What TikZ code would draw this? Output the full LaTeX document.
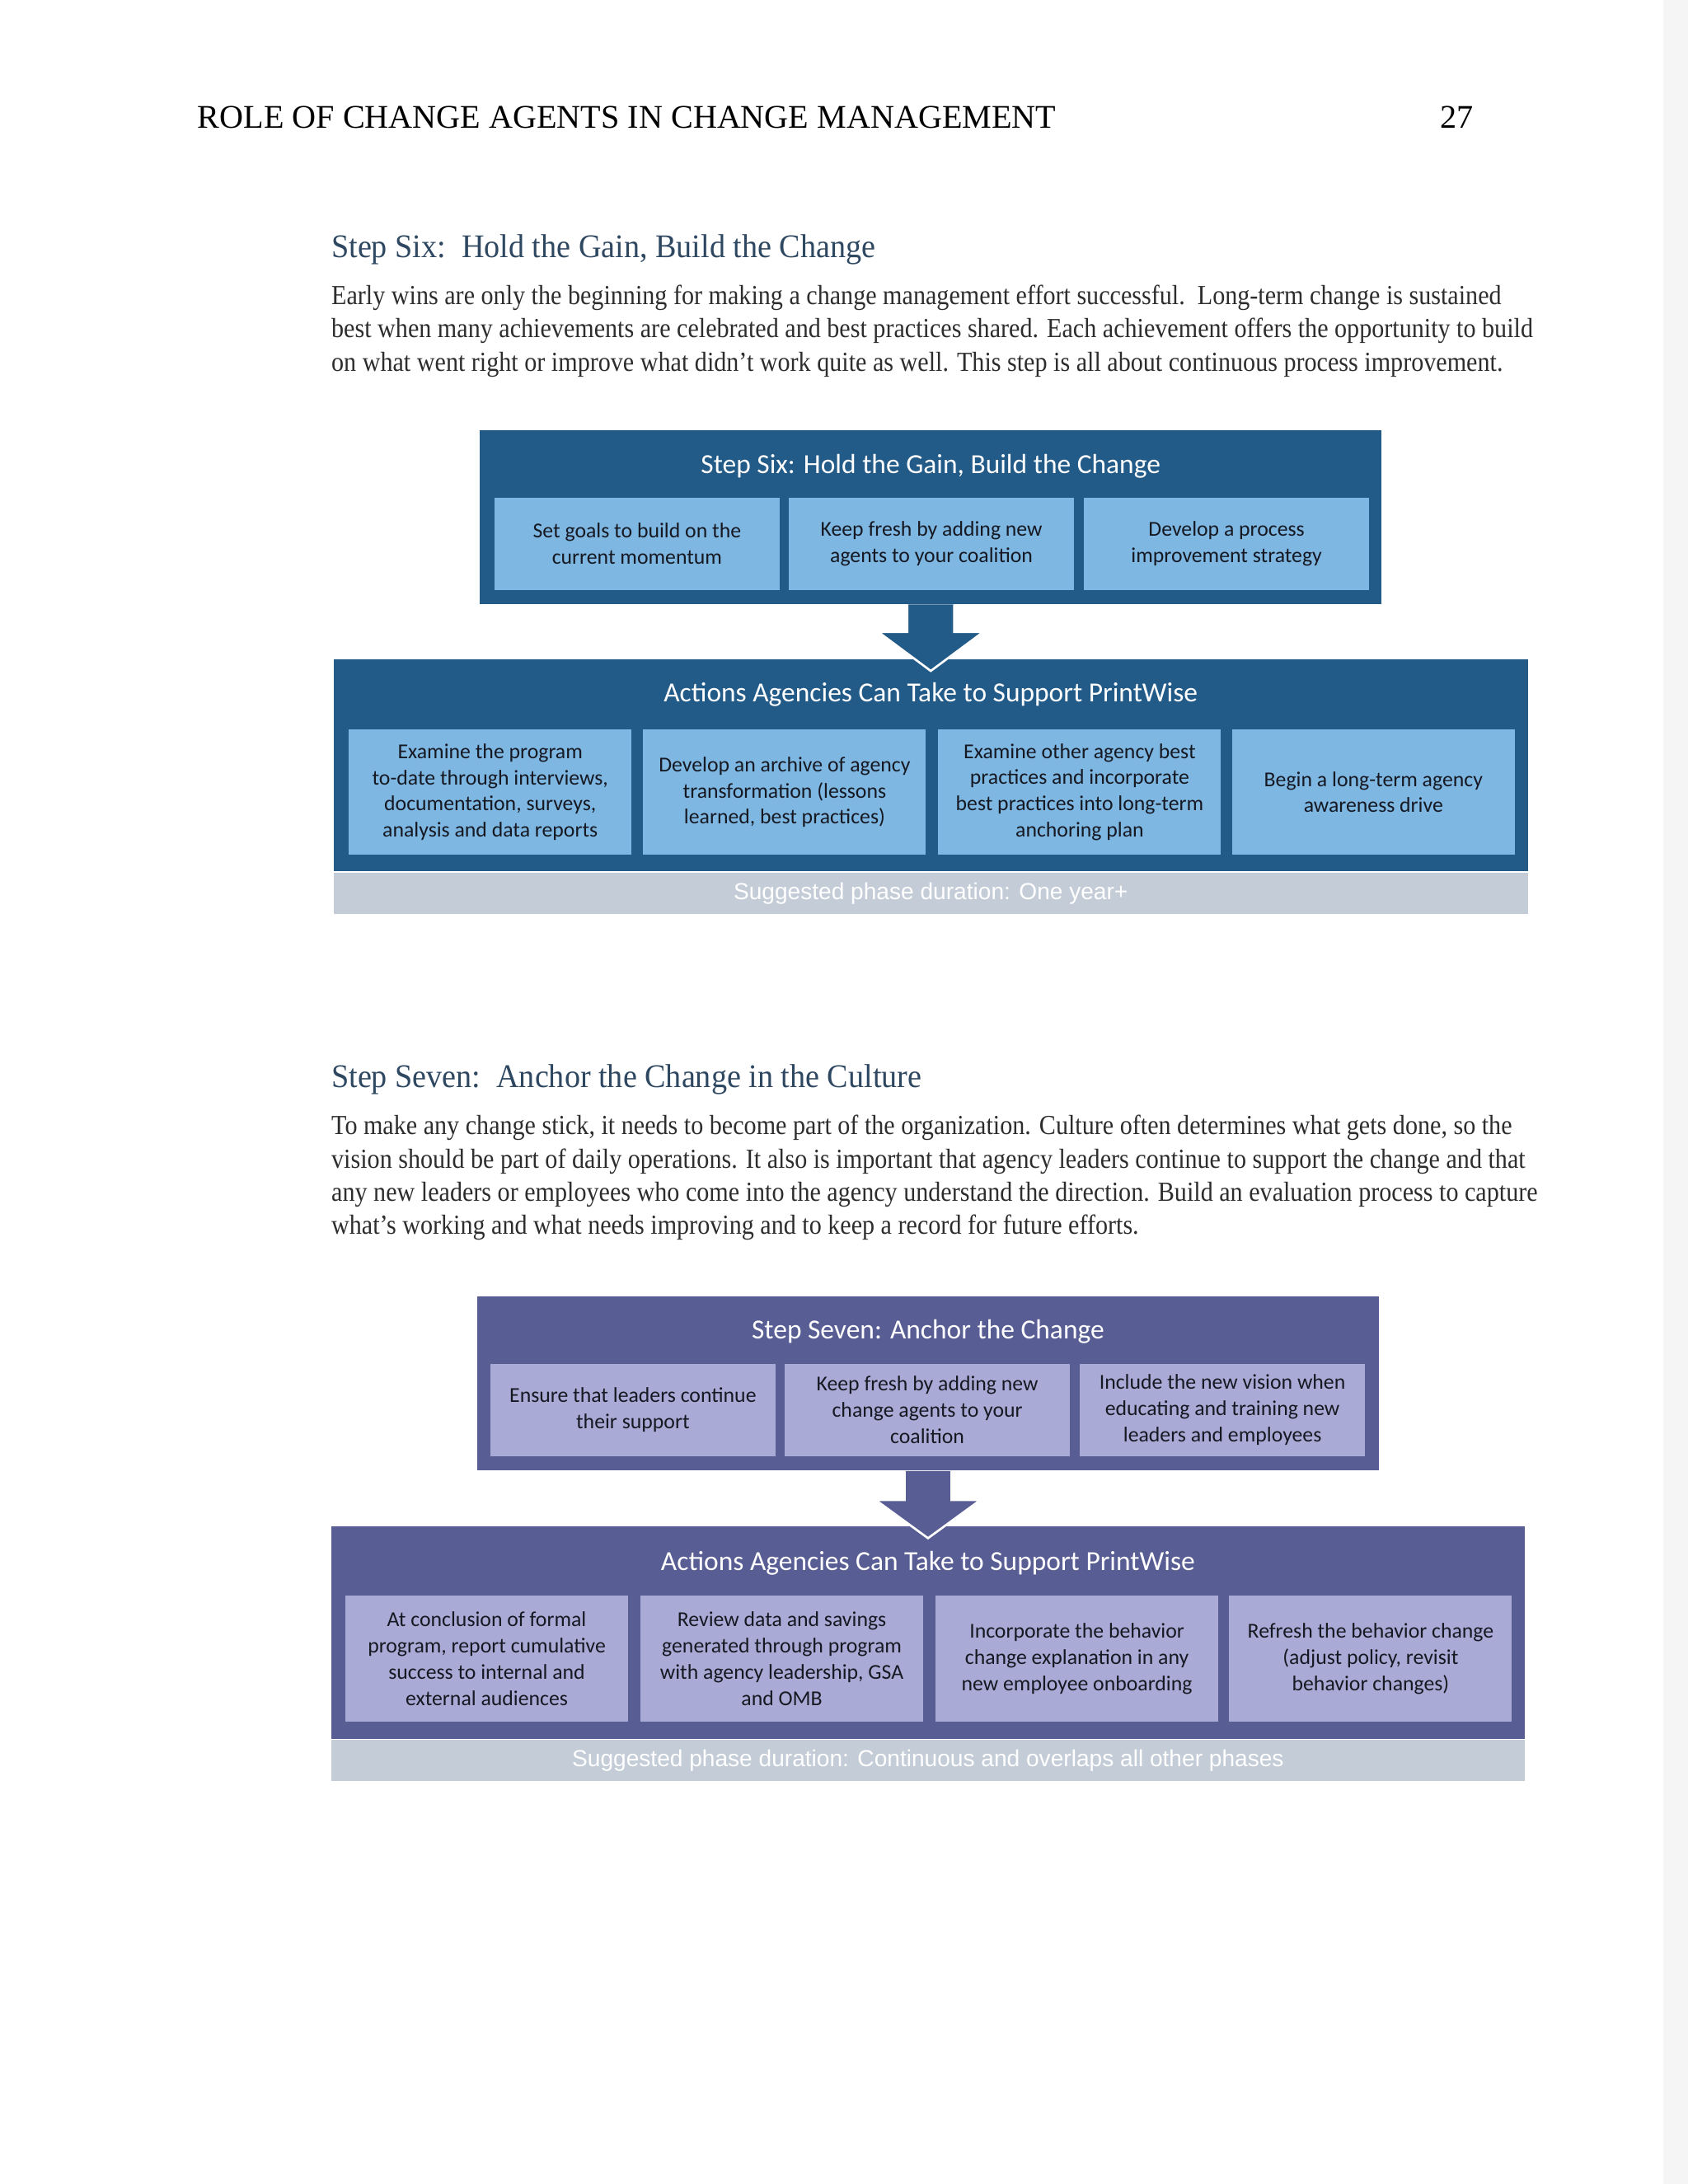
\documentclass[tikz,border=0pt]{standalone}
\usepackage{fontspec}
\setmainfont{Liberation Serif}
\newfontfamily\bodyfont[FakeStretch=0.9]{Liberation Serif}
\newfontfamily\headfont[FakeStretch=0.95]{Liberation Serif}
\newfontfamily\tilefont{Carlito}
\newfontfamily\bandfont{Liberation Sans}

\definecolor{sixdark}{RGB}{34,90,136}
\definecolor{sixlight}{RGB}{125,183,226}
\definecolor{sevdark}{RGB}{88,93,148}
\definecolor{sevlight}{RGB}{169,171,214}
\definecolor{bandgray}{RGB}{196,205,215}
\definecolor{tiletext}{RGB}{22,24,34}
\definecolor{headblue}{RGB}{47,72,98}
\definecolor{bodygray}{RGB}{45,45,45}

\begin{document}
\begin{tikzpicture}[x=0.5pt,y=-0.5pt,
    heading/.style={anchor=base west, inner sep=0pt, text=headblue, font=\headfont\fontsize{12}{14}\selectfont},
    bodyline/.style={anchor=base west, inner sep=0pt, text=bodygray, font=\bodyfont\fontsize{10}{12}\selectfont},
    frame/.style={fill=#1, inner sep=0pt, minimum width=327pt, minimum height=63pt},
    actframe/.style={fill=#1, inner sep=0pt, minimum width=433pt, minimum height=77pt},
    frametitle/.style={text=white, inner sep=0pt, font=\tilefont\fontsize{10}{12}\selectfont},
    tile/.style={fill=#1, text=tiletext, align=center, inner sep=0pt, minimum width=103.5pt, minimum height=33.5pt, font=\tilefont\fontsize{7.7}{9.5}\selectfont},
    acttile/.style={tile=#1, minimum width=102.5pt, minimum height=45.5pt},
    band/.style={fill=bandgray, text=white, inner sep=0pt, minimum width=433pt, minimum height=15pt, font=\bandfont\fontsize{8.4}{10}\selectfont},
    blockarrow/.style={fill=#1, draw=white, line width=0.8pt, line join=miter}]
  \useasboundingbox (0,0) rectangle (1224,1584);
  \fill[black!4] (1206,0) rectangle (1224,1584);

  % running head
  \node[anchor=base west, inner sep=0pt, font=\fontsize{12}{14}\selectfont] (runhead) at (143,93) {ROLE OF CHANGE AGENTS IN CHANGE MANAGEMENT};
  \node[anchor=base east, inner sep=0pt, font=\fontsize{12}{14}\selectfont] (pagenum) at (1069,93) {27};

  % step six text
  \node[heading] (sixhead) at (240,187) {Step Six:\ \ Hold the Gain, Build the Change};
  \foreach \t [count=\i] in {{Early wins are only the beginning for making a change management effort successful.\ \ Long-term change is sustained},
      {best when many achievements are celebrated and best practices shared. Each achievement offers the opportunity to build},
      {on what went right or improve what didn’t work quite as well. This step is all about continuous process improvement.}}
    \node[bodyline] (sixpar\i) at (240,{197+24*\i}) {\t};

  % step six diagram
  \node[frame=sixdark] (sixtop) at (675,375) {};
  \node[actframe=sixdark] (sixact) at (675,555) {};
  \node[band, anchor=north] (sixband) at (sixact.south) {Suggested phase duration: One year+};
  \filldraw[blockarrow=sixdark] ([xshift=-8.5pt]sixtop.south) -- ([xshift=-8.5pt,yshift=-10pt]sixtop.south)
    -- ([xshift=-19pt,yshift=-10pt]sixtop.south) -- ([yshift=-4.5pt]sixact.north)
    -- ([xshift=19pt,yshift=-10pt]sixtop.south) -- ([xshift=8.5pt,yshift=-10pt]sixtop.south)
    -- ([xshift=8.5pt]sixtop.south);
  \node[frametitle] (sixtitle) at (675,338) {Step Six: Hold the Gain, Build the Change};
  \node[tile=sixlight] (sixa) at (462,394.5) {Set goals to build on the\\current momentum};
  \node[tile=sixlight] (sixb) at (675.5,394.5) {Keep fresh by adding new\\agents to your coalition};
  \node[tile=sixlight] (sixc) at (889.5,394.5) {Develop a process\\improvement strategy};
  \node[frametitle] (sixacttitle) at (675,504) {Actions Agencies Can Take to Support PrintWise};
  \node[acttile=sixlight] (sixact1) at (355.5,574.5) {Examine the program\\to-date through interviews,\\documentation, surveys,\\analysis and data reports};
  \node[acttile=sixlight] (sixact2) at (569,574.5) {Develop an archive of agency\\transformation (lessons\\learned, best practices)};
  \node[acttile=sixlight] (sixact3) at (783,574.5) {Examine other agency best\\practices and incorporate\\best practices into long-term\\anchoring plan};
  \node[acttile=sixlight] (sixact4) at (996,574.5) {Begin a long-term agency\\awareness drive};

  % step seven text
  \node[heading] (sevhead) at (240,789) {Step Seven:\ \ Anchor the Change in the Culture};
  \foreach \t [count=\i] in {{To make any change stick, it needs to become part of the organization. Culture often determines what gets done, so the},
      {vision should be part of daily operations. It also is important that agency leaders continue to support the change and that},
      {any new leaders or employees who come into the agency understand the direction. Build an evaluation process to capture},
      {what’s working and what needs improving and to keep a record for future efforts.}}
    \node[bodyline] (sevpar\i) at (240,{799+24*\i}) {\t};

  % step seven diagram
  \node[frame=sevdark] (sevtop) at (673,1003.5) {};
  \node[actframe=sevdark] (sevact) at (673,1184) {};
  \node[band, anchor=north] (sevband) at (sevact.south) {Suggested phase duration: Continuous and overlaps all other phases};
  \filldraw[blockarrow=sevdark] ([xshift=-8.5pt]sevtop.south) -- ([xshift=-8.5pt,yshift=-10.5pt]sevtop.south)
    -- ([xshift=-19pt,yshift=-10.5pt]sevtop.south) -- ([yshift=-4.5pt]sevact.north)
    -- ([xshift=19pt,yshift=-10.5pt]sevtop.south) -- ([xshift=8.5pt,yshift=-10.5pt]sevtop.south)
    -- ([xshift=8.5pt]sevtop.south);
  \node[frametitle] (sevtitle) at (673,966) {Step Seven: Anchor the Change};
  \node[tile=sevlight] (seva) at (459,1022.5) {Ensure that leaders continue\\their support};
  \node[tile=sevlight] (sevb) at (672.5,1022.5) {Keep fresh by adding new\\change agents to your\\coalition};
  \node[tile=sevlight] (sevc) at (886.5,1022.5) {Include the new vision when\\educating and training new\\leaders and employees};
  \node[frametitle] (sevacttitle) at (673,1134) {Actions Agencies Can Take to Support PrintWise};
  \node[acttile=sevlight] (sevact1) at (353,1203) {At conclusion of formal\\program, report cumulative\\success to internal and\\external audiences};
  \node[acttile=sevlight] (sevact2) at (567,1203) {Review data and savings\\generated through program\\with agency leadership, GSA\\and OMB};
  \node[acttile=sevlight] (sevact3) at (781,1203) {Incorporate the behavior\\change explanation in any\\new employee onboarding};
  \node[acttile=sevlight] (sevact4) at (994,1203) {Refresh the behavior change\\(adjust policy, revisit\\behavior changes)};
\end{tikzpicture}
\end{document}
